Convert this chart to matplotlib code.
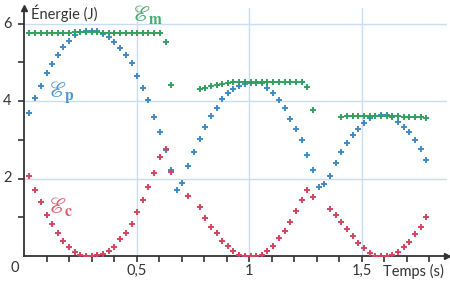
import numpy as np
import matplotlib
matplotlib.use("Agg")
import matplotlib.pyplot as plt

nan = np.nan
# Time samples (s)
temps = [0.024, 0.049, 0.074, 0.100, 0.125, 0.150, 0.175, 0.200, 0.226, 0.251,
         0.276, 0.301, 0.326, 0.352, 0.377, 0.402, 0.427, 0.452, 0.478, 0.503,
         0.528, 0.553, 0.578, 0.604, 0.629, 0.654, 0.679, 0.704, 0.730, 0.755,
         0.780, 0.805, 0.830, 0.856, 0.881, 0.906, 0.931, 0.956, 0.982, 1.007,
         1.032, 1.057, 1.082, 1.108, 1.133, 1.158, 1.183, 1.208, 1.234, 1.259,
         1.284, 1.309, 1.334, 1.360, 1.385, 1.410, 1.435, 1.460, 1.486, 1.511,
         1.536, 1.561, 1.586, 1.612, 1.637, 1.662, 1.687, 1.712, 1.738, 1.763,
         1.788]

# Kinetic energy Ec (J)
Ec = [2.06, 1.70, 1.39, 1.07, 0.83, 0.60, 0.39, 0.24, 0.11, 0.02,
      0.00, 0.00, 0.02, 0.05, 0.13, 0.24, 0.44, 0.60, 0.83, 1.14,
      1.45, 1.77, 2.14, 2.55, 2.75, 2.17, nan, nan, 1.55, nan,
      1.27, 0.97, 0.76, 0.60, 0.39, 0.27, 0.14, 0.03, 0.00, 0.00,
      0.00, 0.03, 0.14, 0.27, 0.46, 0.65, 0.89, 1.15, 1.45, 1.71,
      1.52, nan, nan, 1.21, 1.06, 0.89, 0.69, 0.52, 0.34, 0.20,
      0.09, 0.01, 0.00, 0.00, 0.03, 0.11, 0.24, 0.37, 0.57, 0.76,
      1.01]

# Potential energy Ep (J)
Ep = [3.68, 4.07, 4.39, 4.71, 4.95, 5.19, 5.40, 5.55, 5.70, 5.78,
      5.80, 5.80, 5.80, 5.73, 5.64, 5.53, 5.36, 5.19, 4.97, 4.65,
      4.33, 4.03, 3.60, 3.19, 2.74, 2.21, 1.70, 1.88, 2.32, 2.69,
      3.02, 3.34, 3.61, 3.83, 4.04, 4.20, 4.30, 4.39, 4.44, 4.47,
      4.47, 4.46, 4.33, 4.21, 4.03, 3.81, 3.53, 3.27, 2.99, 2.61,
      2.21, 1.79, 1.87, 2.06, 2.39, 2.69, 2.92, 3.12, 3.29, 3.44,
      3.55, 3.61, 3.64, 3.64, 3.58, 3.47, 3.34, 3.21, 2.99, 2.75,
      2.48]

# Mechanical energy Em (J)
Em = [5.76, 5.76, 5.76, 5.76, 5.76, 5.76, 5.76, 5.76, 5.77, 5.78,
      5.78, 5.78, 5.77, 5.76, 5.76, 5.76, 5.76, 5.76, 5.76, 5.76,
      5.76, 5.76, 5.76, 5.76, 5.53, 4.41, nan, nan, nan, nan,
      4.32, 4.34, 4.38, 4.42, 4.45, 4.47, 4.48, 4.48, 4.48, 4.48,
      4.48, 4.48, 4.48, 4.48, 4.48, 4.48, 4.48, 4.48, 4.48, 4.35,
      3.77, nan, nan, nan, nan, 3.60, 3.61, 3.61, 3.61, 3.61,
      3.61, 3.61, 3.61, 3.61, 3.61, 3.61, 3.60, 3.60, 3.59, 3.58,
      3.55]

xtick_pos = [0.5, 1.0, 1.5]
xtick_lab = ["0,5", "1", "1,5"]
ytick_pos = [2, 4, 6]
ytick_lab = ["2", "4", "6"]

c_blue = "#3f8ac6"
c_red = "#d4445f"
c_green = "#33a060"
c_grid = "#c8def0"
c_axis = "#333333"

plt.rcParams["font.family"] = ["Lato", "DejaVu Sans"]
plt.rcParams["mathtext.fontset"] = "stix"

fig = plt.figure(figsize=(4.5, 2.84), dpi=100)
W, H = 450, 284
x0px, y0px = 24, 256
sx, sy = 225.0, 38.75
xmax, ymax = 1.88, 6.4
ax = fig.add_axes([x0px / W, (H - y0px) / H, xmax * sx / W, ymax * sy / H])
ax.set_xlim(0, xmax)
ax.set_ylim(0, ymax)

for g in ytick_pos:
    ax.axhline(g, color=c_grid, lw=1.0, zorder=0)
for g in xtick_pos:
    ax.axvline(g, color=c_grid, lw=1.0, zorder=0)

mk = dict(marker="+", ms=5, mew=1.4, ls="none", zorder=3)
ax.plot(temps, Ep, color=c_blue, **mk)
ax.plot(temps, Ec, color=c_red, **mk)
ax.plot(temps, Em, color=c_green, **mk)

for s in ["top", "right"]:
    ax.spines[s].set_visible(False)
for s in ["left", "bottom"]:
    ax.spines[s].set_color(c_axis)
    ax.spines[s].set_linewidth(1.3)

ax.plot([0], [ymax], marker="^", color=c_axis, ms=5, clip_on=False, zorder=5)
ax.plot([xmax], [0], marker=">", color=c_axis, ms=5, clip_on=False, zorder=5)

ax.set_xticks(np.round(np.arange(0.1, 1.81, 0.1), 2))
ax.set_xticklabels(["" for _ in range(18)])
ax.set_yticks(range(1, 7))
ax.set_yticklabels(["" for _ in range(6)])
ax.tick_params(axis="both", direction="out", length=4, width=1.2, color=c_axis)

for p, l in zip(xtick_pos, xtick_lab):
    ax.annotate(l, xy=(p, 0), xycoords="data", xytext=(0, -11), textcoords="offset points",
                ha="center", va="center", fontsize=10.5, color="#333333")
for p, l in zip(ytick_pos, ytick_lab):
    ax.annotate(l, xy=(0, p), xycoords="data", xytext=(-9, 0), textcoords="offset points",
                ha="right", va="center", fontsize=10.5, color="#333333")
ax.annotate("0", xy=(0, 0), xycoords="data", xytext=(-7, -9), textcoords="offset points",
            ha="center", va="center", fontsize=10.5, color="#333333")

fig.text(383 / W, 1 - 271 / H, "Temps (s)", ha="left", va="center", fontsize=10.5, color="#333333")
fig.text(31 / W, 1 - 13 / H, "Énergie (J)", ha="left", va="center", fontsize=10.5, color="#333333")

labels = [("m", 132, 14, "#45ac6e"), ("p", 48, 92, "#4f95d0"), ("c", 48, 206, "#dc5a70")]
for sub, px, py, col in labels:
    fig.text(px / W, 1 - py / H, r"$\mathscr{E}_{\mathbf{%s}}$" % sub, ha="left", va="center",
             fontsize=16, color=col)

fig.savefig("out.png", dpi=100)
